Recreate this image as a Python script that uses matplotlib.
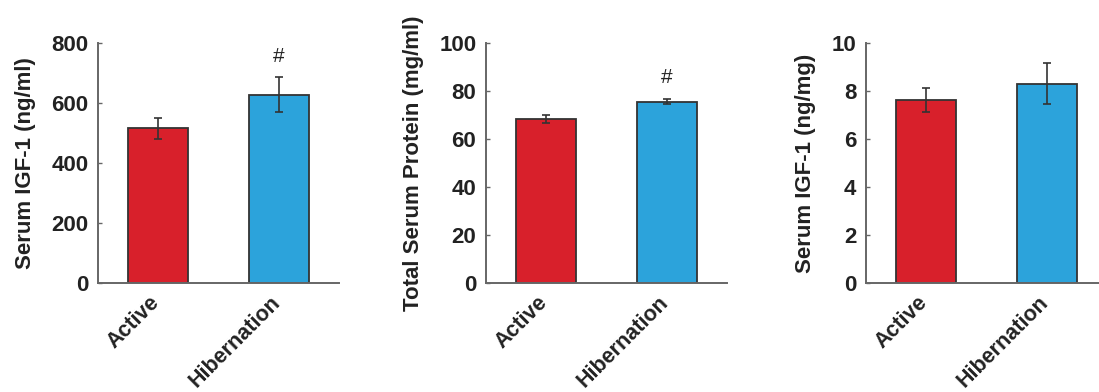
import matplotlib
matplotlib.use("Agg")
import matplotlib.pyplot as plt
from matplotlib.transforms import ScaledTranslation

categories = ["Active", "Hibernation"]
igf_ngml = [515, 627]
igf_ngml_err = [34, 58]
protein = [68.2, 75.5]
protein_err = [1.7, 1.1]
igf_ngmg = [7.6, 8.3]
igf_ngmg_err = [0.5, 0.85]

ylabels = ["Serum IGF-1 (ng/ml)", "Total Serum Protein (mg/ml)", "Serum IGF-1 (ng/mg)"]
ylims = [800, 100, 10]
ysteps = [200, 20, 2]
marks = [[None, "#"], [None, "#"], [None, None]]

plt.rcParams['font.family'] = ['Liberation Sans', 'DejaVu Sans']
colors = ["#d8202b", "#2ca3db"]

fig = plt.figure(figsize=(10.99, 3.92), dpi=100)
lefts = [0.0892, 0.4422, 0.788]
datasets = [(igf_ngml, igf_ngml_err), (protein, protein_err), (igf_ngmg, igf_ngmg_err)]

for i, (vals, errs) in enumerate(datasets):
    ax = fig.add_axes([lefts[i], 0.2773, 0.2193, 0.6138])
    x = list(range(len(categories)))
    ax.bar(x, vals, width=0.5, color=colors, edgecolor="#333333", linewidth=1.3,
           yerr=errs, error_kw=dict(ecolor="#333333", elinewidth=1.2, capsize=3, capthick=1.2))
    ax.set_xlim(-0.5, 1.5)
    ax.set_ylim(0, ylims[i])
    ax.set_yticks([ysteps[i] * k for k in range(int(ylims[i] / ysteps[i]) + 1)])
    ax.set_xticks(x)
    ax.set_xticklabels(categories, rotation=45, ha="right", rotation_mode="anchor",
                       fontsize=15.5, fontweight="bold", color="#222222")
    ax.tick_params(axis="x", length=0, pad=9)
    off = ScaledTranslation(-0.09, 0.04, fig.dpi_scale_trans)
    for lab in ax.get_xticklabels():
        lab.set_transform(lab.get_transform() + off)
    ax.tick_params(axis="y", direction="in", length=3, width=1, colors="#666666",
                   labelsize=16, labelcolor="#222222", pad=7)
    for lab in ax.get_yticklabels():
        lab.set_fontweight("bold")
    ax.set_ylabel(ylabels[i], fontsize=16, fontweight="bold", color="#222222", labelpad=11)
    for s in ["top", "right"]:
        ax.spines[s].set_visible(False)
    for s in ["left", "bottom"]:
        ax.spines[s].set_color("#666666")
        ax.spines[s].set_linewidth(1.4)
    for j, m in enumerate(marks[i]):
        if m:
            ax.text(j, vals[j] + errs[j] + ylims[i] * 0.088, m, ha="center", va="center",
                    fontsize=15, color="#222222")

fig.savefig("out.png", dpi=100)
